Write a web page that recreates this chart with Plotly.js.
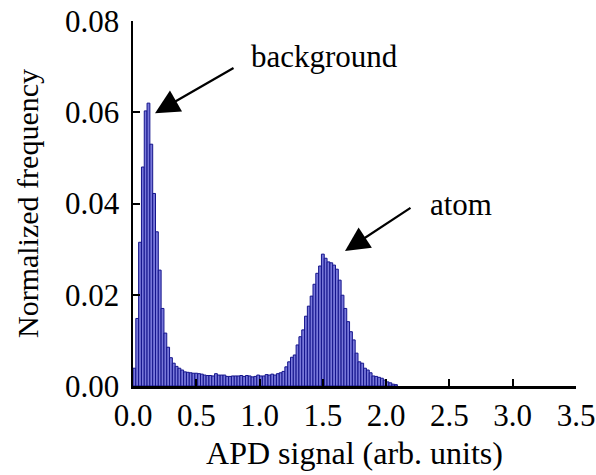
<!DOCTYPE html>
<html>
<head>
<meta charset="utf-8">
<script src="https://cdn.plot.ly/plotly-3.0.1.min.js"></script>
<style>
html,body{margin:0;padding:0;background:#fff;}
#chart{width:596px;height:475px;}
</style>
</head>
<body>
<div id="chart"></div>
<script>
// Histogram of APD signal: bin width and normalized frequency per bin (starting at 0)
const binWidth = 0.02222;
const frequency = [
  0.0039, 0.0148, 0.0315, 0.0480, 0.0603, 0.0620, 0.0530, 0.0422, 0.0338, 0.0254,
  0.0170, 0.0116, 0.0085, 0.0062, 0.0050, 0.0043, 0.0039, 0.0035, 0.0031, 0.0030,
  0.0029, 0.0028, 0.0028, 0.0027, 0.0026, 0.0024, 0.0023, 0.0023, 0.0022, 0.0027,
  0.0024, 0.0024, 0.0024, 0.0021, 0.0021, 0.0022, 0.0022, 0.0022, 0.0023, 0.0021,
  0.0023, 0.0022, 0.0020, 0.0021, 0.0024, 0.0022, 0.0022, 0.0025, 0.0024, 0.0026,
  0.0024, 0.0027, 0.0029, 0.0032, 0.0042, 0.0053, 0.0063, 0.0068, 0.0090, 0.0108,
  0.0123, 0.0153, 0.0175, 0.0197, 0.0223, 0.0247, 0.0263, 0.0289, 0.0280, 0.0272,
  0.0270, 0.0265, 0.0256, 0.0232, 0.0199, 0.0170, 0.0141, 0.0119, 0.0101, 0.0072,
  0.0053, 0.0050, 0.0039, 0.0035, 0.0029, 0.0022, 0.0021, 0.0019, 0.0017, 0.0013,
  0.0009, 0.0007, 0.0004, 0.0003
];
const xTicks = [0, 0.5, 1.0, 1.5, 2.0, 2.5, 3.0, 3.5];
const yTicks = [0, 0.02, 0.04, 0.06, 0.08];
const labels = {x: 'APD signal (arb. units)', y: 'Normalized frequency', bg: 'background', atom: 'atom'};

const font = '"Liberation Serif", "DejaVu Serif", serif';

const trace = {
  type: 'bar',
  y: frequency,
  x0: binWidth / 2,
  dx: binWidth,
  width: binWidth,
  marker: {color: 'rgb(120,120,218)', line: {color: 'rgb(20,20,140)', width: 1}},
  hoverinfo: 'none'
};

const axisCommon = {
  showgrid: false, zeroline: false, showline: true, linecolor: '#000', linewidth: 2.5,
  ticks: 'inside', ticklen: 7, tickwidth: 2, tickcolor: '#000',
  tickfont: {family: font, size: 31, color: '#000'}, mirror: false
};

const layout = {
  width: 596, height: 475,
  margin: {l: 133, r: 20, t: 21, b: 89},
  paper_bgcolor: '#fff', plot_bgcolor: '#fff',
  font: {family: font, color: '#000'},
  showlegend: false, bargap: 0,
  xaxis: Object.assign({}, axisCommon, {
    range: [0, 3.5], tickvals: xTicks, ticktext: xTicks.map(v => v.toFixed(1)),
    ticklabelstandoff: 0,
    title: {text: labels.x, font: {family: font, size: 32, color: '#000'}, standoff: 10}
  }),
  yaxis: Object.assign({}, axisCommon, {
    range: [0, 0.08], tickvals: yTicks, ticktext: yTicks.map(v => v.toFixed(2)),
    ticklabelstandoff: 5,
    title: {text: labels.y, font: {family: font, size: 30, color: '#000'}, standoff: 18}
  }),
  annotations: [
    {xref: 'x', yref: 'y', x: 0.916, y: 0.0723, xanchor: 'left', yanchor: 'middle',
     text: labels.bg, showarrow: false, font: {family: font, size: 31, color: '#000'}},
    {xref: 'x', yref: 'y', x: 2.33, y: 0.0397, xanchor: 'left', yanchor: 'middle',
     text: labels.atom, showarrow: false, font: {family: font, size: 31, color: '#000'}},
    {xref: 'x', yref: 'y', x: 0.174, y: 0.0598, ax: 80, ay: -46, text: ' ',
     font: {size: 1}, showarrow: true, arrowhead: 2, arrowsize: 2.2, arrowwidth: 2.2, arrowcolor: '#000', standoff: 0},
    {xref: 'x', yref: 'y', x: 1.675, y: 0.0296, ax: 67, ay: -44, text: ' ',
     font: {size: 1}, showarrow: true, arrowhead: 2, arrowsize: 2.2, arrowwidth: 2.2, arrowcolor: '#000', standoff: 0}
  ]
};

Plotly.newPlot('chart', [trace], layout, {displayModeBar: false, staticPlot: true});
</script>
</body>
</html>
